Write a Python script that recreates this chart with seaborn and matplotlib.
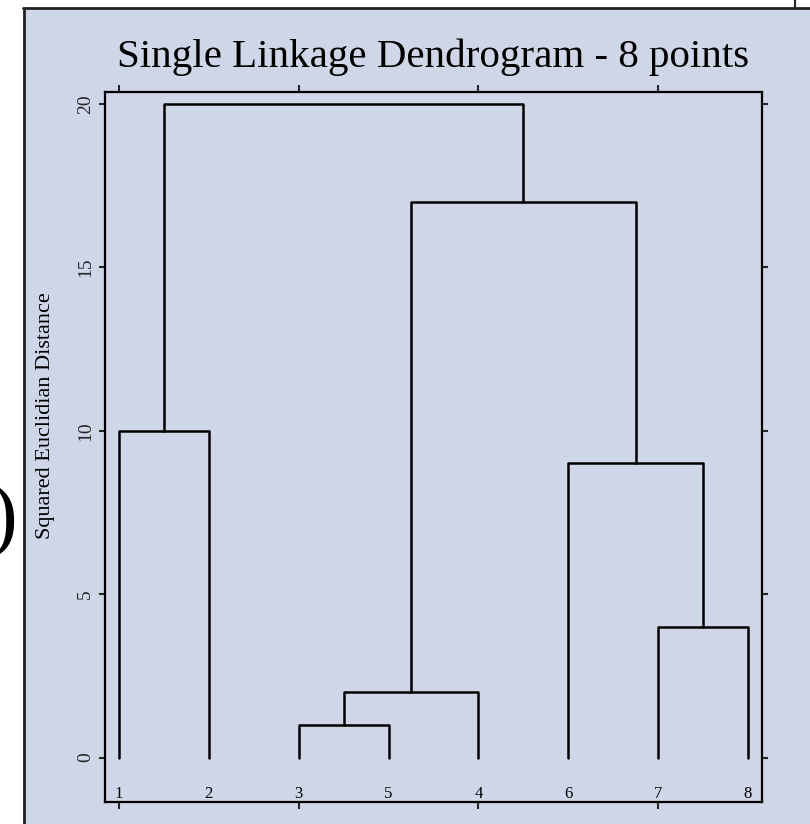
import numpy as np
import pandas as pd
import matplotlib
matplotlib.use("Agg")
import matplotlib.pyplot as plt
import seaborn as sns
from matplotlib.patches import Rectangle
from matplotlib.lines import Line2D

# Observations and agglomeration schedule (ids 0-7 are the points,
# 8 and up are the clusters formed at each step, in order)
point_labels = ["1", "2", "3", "4", "5", "6", "7", "8"]
merge_a = [2, 8, 6, 5, 0, 9, 12]
merge_b = [4, 3, 7, 10, 1, 11, 13]
merge_height = [1, 2, 4, 9, 10, 17, 20]
y_ticks = [0, 5, 10, 15, 20]
x_ticks = [0, 2, 4, 6]

n = len(point_labels)
children = {n + k: (a, b) for k, (a, b) in enumerate(zip(merge_a, merge_b))}
heights = {n + k: h for k, h in enumerate(merge_height)}


def leaf_order(node):
    if node < n:
        return [node]
    a, b = children[node]
    return leaf_order(a) + leaf_order(b)


root = n + len(merge_a) - 1
order = leaf_order(root)
xpos = {leaf: i for i, leaf in enumerate(order)}
ypos = {leaf: 0.0 for leaf in order}

rows = []
for k in range(len(merge_a)):
    node = n + k
    a, b = children[node]
    h = heights[node]
    for x, y in [(xpos[a], ypos[a]), (xpos[a], h), (xpos[b], h), (xpos[b], ypos[b])]:
        rows.append({"x": x, "y": y, "link": k})
    xpos[node] = (xpos[a] + xpos[b]) / 2
    ypos[node] = h
links = pd.DataFrame(rows)

sns.set_theme(style="ticks")
plt.rcParams["font.family"] = ["Liberation Serif", "DejaVu Serif"]

W, H = 810, 824
bg = "#CFD6E8"
fig = plt.figure(figsize=(W / 100, H / 100), dpi=100, facecolor="white")

# panel background and its border
fig.patches.append(Rectangle((23 / W, 0), 1 - 23 / W, (H - 8) / H,
                             transform=fig.transFigure, facecolor=bg,
                             edgecolor="none", zorder=-2))
fig.lines.append(Line2D([24 / W, 24 / W], [0, (H - 8) / H], transform=fig.transFigure,
                        color="#222222", lw=2.0, zorder=-1))
fig.lines.append(Line2D([23 / W, 1], [(H - 8) / H, (H - 8) / H], transform=fig.transFigure,
                        color="#222222", lw=2.0, zorder=-1))
fig.lines.append(Line2D([795 / W, 795 / W], [(H - 8) / H, 1], transform=fig.transFigure,
                        color="#222222", lw=1.5, zorder=-1))
fig.text(17 / W, 1 - 522 / H, ")", ha="right", va="center", fontsize=60,
         color="black")

ax = fig.add_axes([105 / W, 1 - 802 / H, (762 - 105) / W, (802 - 92) / H])
ax.set_facecolor(bg)

sns.lineplot(data=links, x="x", y="y", units="link", estimator=None, sort=False,
             color="black", linewidth=1.8, legend=False, ax=ax)

for i, leaf in enumerate(order):
    ax.text(i, -1.36, point_labels[leaf], ha="center", va="bottom",
            fontsize=12, color="black")

px_per_unit_y = (757.5 - 104) / 20
ax.set_xlim(-14 / 89.86, 7 + 14 / 89.86)
ax.set_ylim(-(802 - 757.5) / px_per_unit_y, 20 + (104 - 92) / px_per_unit_y)

ax.set_yticks(y_ticks)
ax.set_yticklabels([str(t) for t in y_ticks], rotation=90, va="center", fontsize=14)
ax.set_xticks(x_ticks)
ax.set_xticklabels([])
ax.tick_params(axis="y", which="both", direction="out", length=4, width=1.5,
               left=True, right=True, labelleft=True, labelright=False, pad=4)
ax.tick_params(axis="x", which="both", direction="out", length=5, width=1.5,
               top=True, bottom=True, labelbottom=False, labeltop=False)
ax.set_xlabel("")
ax.set_ylabel("")
for s in ax.spines.values():
    s.set_visible(True)
    s.set_color("black")
    s.set_linewidth(1.6)

fig.text(433 / W, 1 - 67 / H, "Single Linkage Dendrogram - 8 points",
         ha="center", va="baseline", fontsize=29.5, color="black")
fig.text(46 / W, 1 - 416 / H, "Squared Euclidian Distance", rotation=90,
         ha="center", va="center", fontsize=16, color="black")

fig.savefig("out.png", dpi=100, facecolor="white")
